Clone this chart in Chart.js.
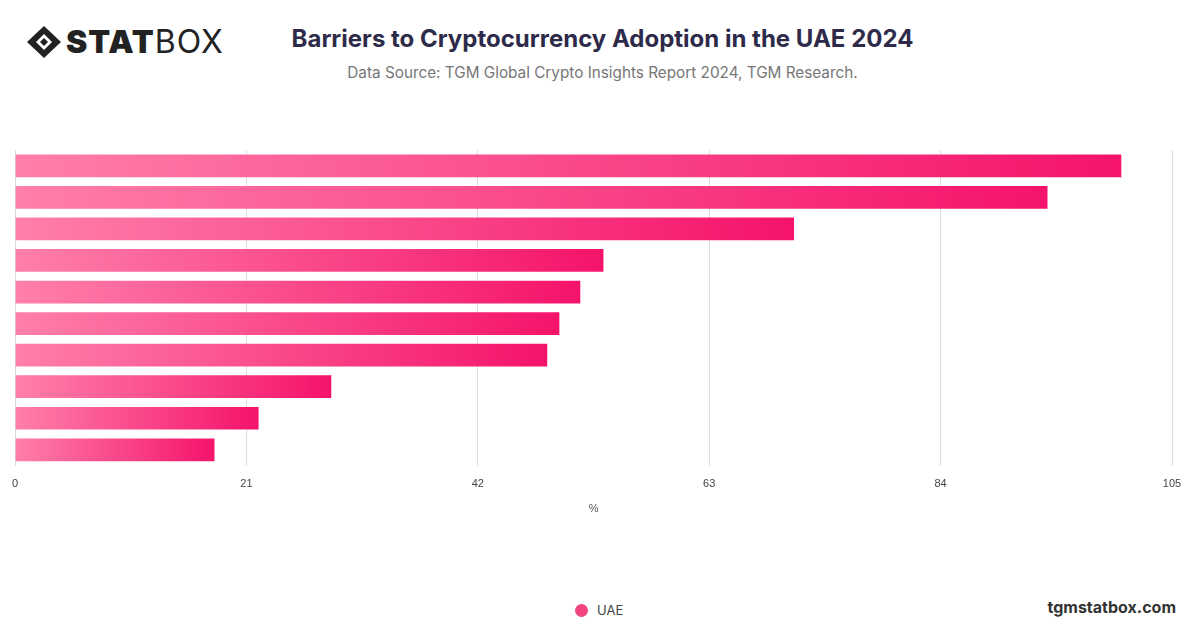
<!DOCTYPE html>
<html><head><meta charset="utf-8">
<script src="https://cdn.jsdelivr.net/npm/chart.js@4"></script>
<style>
body{margin:0;width:1200px;height:628px;background:#fff;font-family:Inter,"Open Sans",sans-serif;position:relative;overflow:hidden}
#logo{position:absolute;left:26px;top:22px;font-size:32px;color:#222;letter-spacing:1px;display:flex;align-items:center}
#logo b{font-weight:900}
#logo span{font-weight:400}
#title{position:absolute;left:0;right:0;top:24px;text-align:center;font-size:24px;font-weight:700;color:#2e2b4a;padding-left:5px}
#sub{position:absolute;left:0;right:0;top:63px;text-align:center;font-size:15.3px;color:#777;padding-left:5px}
#foot{position:absolute;right:24px;top:597px;font-size:16px;font-weight:700;color:#333}
#wrap{position:absolute;left:0;top:140px;width:1200px;height:488px}
#leg{position:absolute;left:575px;top:602px;font-size:13px;color:#444;display:flex;align-items:center}
#leg i{display:inline-block;width:13px;height:13px;border-radius:50%;background:#f0457f;margin-right:9px}
</style></head><body>
<div id="logo"><svg width="36" height="34" viewBox="0 0 36 34" style="margin-right:4px"><path d="M18 1 L35 17 L18 33 L1 17 Z" fill="#222"/><path d="M18 9 L26 17 L18 25 L10 17 Z" fill="#fff"/><path d="M18 13 L22 17 L18 21 L14 17 Z" fill="#222"/></svg><b>STAT</b><span>BOX</span></div>
<div id="title">Barriers to Cryptocurrency Adoption in the UAE 2024</div>
<div id="sub">Data Source: TGM Global Crypto Insights Report 2024, TGM Research.</div>
<div id="foot">tgmstatbox.com</div>
<div id="leg"><i></i>UAE</div>
<div id="wrap"><canvas id="c" width="1200" height="488"></canvas></div>
<script>
const categories=["Barrier 1","Barrier 2","Barrier 3","Barrier 4","Barrier 5","Barrier 6","Barrier 7","Barrier 8","Barrier 9","Barrier 10"];
const uaeValues=[100.4,93.7,70.7,53.4,51.3,49.4,48.3,28.7,22.1,18.1];
const xTicks=[0,21,42,63,84,105];
function grad(ctx){
  const c=ctx.chart, a=c.chartArea; if(!a||ctx.type!=='data') return '#f5136b';
  const x0=c.scales.x.getPixelForValue(0), x1=c.scales.x.getPixelForValue(ctx.raw);
  const g=c.ctx.createLinearGradient(x0,0,x1,0);
  g.addColorStop(0,'#ff7fab');g.addColorStop(1,'#f5136b');return g;
}
new Chart(document.getElementById('c'),{
  type:'bar',
  data:{labels:categories,datasets:[{label:'UAE',data:uaeValues,backgroundColor:grad,borderWidth:0,categoryPercentage:1,barPercentage:0.72}]},
  options:{indexAxis:'y',responsive:false,animation:false,
    layout:{padding:{left:3,right:28,top:10,bottom:112}},
    scales:{
      x:{min:0,max:105,afterBuildTicks:s=>{s.ticks=xTicks.map(v=>({value:v}))},
        grid:{color:'#dddddd',drawTicks:false},border:{display:false},
        ticks:{color:'#444',font:{size:11},padding:12},
        title:{display:true,text:'%',color:'#555',font:{size:11},padding:{top:0,bottom:0}}},
      y:{display:true,ticks:{display:false},grid:{display:false},border:{display:true,color:'#ddd'}}
    },
    plugins:{legend:{display:false},tooltip:{enabled:true}}
  }
});
</script>
</body></html>
